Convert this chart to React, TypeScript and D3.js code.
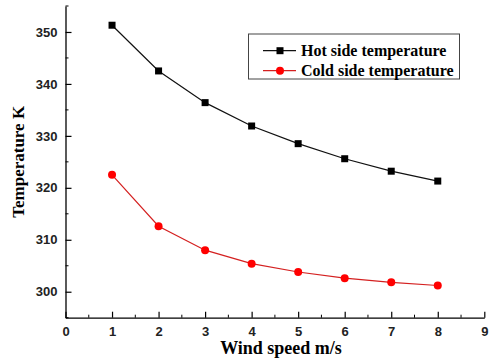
import { useEffect, useRef } from 'react';
import * as d3 from 'd3';

const windSpeed = [1, 2, 3, 4, 5, 6, 7, 8];
const hotSide = [351.3, 342.5, 336.4, 331.9, 328.5, 325.6, 323.2, 321.3];
const coldSide = [322.5, 312.6, 308.0, 305.4, 303.8, 302.6, 301.8, 301.2];
const xTicks = [0, 1, 2, 3, 4, 5, 6, 7, 8, 9];
const yTicks = [300, 310, 320, 330, 340, 350];
const seriesNames = ['Hot side temperature', 'Cold side temperature'];

const App = () => {
  const svgRef = useRef<SVGSVGElement>(null);

  useEffect(() => {
    const svg = d3.select(svgRef.current);
    svg.selectAll('*').remove();

    const width = 490;
    const height = 363;
    const margin = { top: 6, right: 6, bottom: 45, left: 65.5 };

    const x = d3.scaleLinear().domain([0, 9]).range([margin.left, 484.3]);
    const y = d3.scaleLinear().domain([295, 355]).range([317.7, margin.top]);

    svg.attr('width', width).attr('height', height);

    // axes with inward ticks
    const xAxis = svg
      .append('g')
      .attr('transform', `translate(0,${y(295)})`)
      .call(
        d3.axisBottom(x).tickValues(xTicks).tickSize(-6).tickPadding(9).tickSizeOuter(0)
      );
    xAxis
      .selectAll('.minor')
      .data(d3.range(0.5, 9, 1))
      .enter()
      .append('line')
      .attr('x1', (d) => x(d))
      .attr('x2', (d) => x(d))
      .attr('y1', 0)
      .attr('y2', -3)
      .attr('stroke', '#000');

    const yAxis = svg
      .append('g')
      .attr('transform', `translate(${x(0)},0)`)
      .call(
        d3.axisLeft(y).tickValues(yTicks).tickSize(-6).tickPadding(8).tickSizeOuter(0)
      );
    yAxis
      .selectAll('.minor')
      .data(d3.range(295, 356, 10))
      .enter()
      .append('line')
      .attr('x1', 0)
      .attr('x2', 3)
      .attr('y1', (d) => y(d))
      .attr('y2', (d) => y(d))
      .attr('stroke', '#000');

    [xAxis, yAxis].forEach((a) => {
      a.select('.domain').attr('stroke', '#000').attr('stroke-width', 1.3);
      a.selectAll('.tick line').attr('stroke', '#000').attr('stroke-width', 1.2);
      a.selectAll('.tick text')
        .attr('font-family', 'Liberation Sans, Arial, sans-serif')
        .attr('font-weight', 'bold')
        .attr('font-size', '13px')
        .attr('fill', '#222');
    });

    // axis titles
    svg
      .append('text')
      .attr('x', 281)
      .attr('y', 354)
      .attr('text-anchor', 'middle')
      .attr('font-family', 'Liberation Serif, Times New Roman, serif')
      .attr('font-weight', 'bold')
      .attr('font-size', '18px')
      .text('Wind speed m/s');

    svg
      .append('text')
      .attr('transform', `translate(24,${(y(295) + y(355)) / 2}) rotate(-90)`)
      .attr('text-anchor', 'middle')
      .attr('font-family', 'Liberation Serif, Times New Roman, serif')
      .attr('font-weight', 'bold')
      .attr('font-size', '17px')
      .text('Temperature K');

    const line = d3
      .line<number>()
      .x((_, i) => x(windSpeed[i]))
      .y((d) => y(d));

    // hot side
    svg
      .append('path')
      .datum(hotSide)
      .attr('d', line)
      .attr('fill', 'none')
      .attr('stroke', '#111')
      .attr('stroke-width', 1.2);
    svg
      .selectAll('.hot')
      .data(hotSide)
      .enter()
      .append('rect')
      .attr('x', (_, i) => x(windSpeed[i]) - 3.5)
      .attr('y', (d) => y(d) - 3.5)
      .attr('width', 7)
      .attr('height', 7)
      .attr('fill', '#000');

    // cold side
    svg
      .append('path')
      .datum(coldSide)
      .attr('d', line)
      .attr('fill', 'none')
      .attr('stroke', '#d42020')
      .attr('stroke-width', 1.2);
    svg
      .selectAll('.cold')
      .data(coldSide)
      .enter()
      .append('circle')
      .attr('cx', (_, i) => x(windSpeed[i]))
      .attr('cy', (d) => y(d))
      .attr('r', 4)
      .attr('fill', '#f00');

    // legend
    const legend = svg.append('g');
    legend
      .append('rect')
      .attr('x', 248.5)
      .attr('y', 34)
      .attr('width', 211)
      .attr('height', 45)
      .attr('fill', '#fff')
      .attr('stroke', '#444')
      .attr('stroke-width', 1);

    const rowY = [50.7, 70.7];
    const colors = ['#111', '#d42020'];
    seriesNames.forEach((name, i) => {
      legend
        .append('line')
        .attr('x1', 263)
        .attr('x2', 296)
        .attr('y1', rowY[i])
        .attr('y2', rowY[i])
        .attr('stroke', colors[i])
        .attr('stroke-width', 1.2);
      if (i === 0) {
        legend
          .append('rect')
          .attr('x', 276.5)
          .attr('y', rowY[i] - 3.5)
          .attr('width', 7)
          .attr('height', 7)
          .attr('fill', '#000');
      } else {
        legend
          .append('circle')
          .attr('cx', 280)
          .attr('cy', rowY[i])
          .attr('r', 4)
          .attr('fill', '#f00');
      }
      legend
        .append('text')
        .attr('x', 301)
        .attr('y', rowY[i] + 5.5)
        .attr('font-family', 'Liberation Serif, Times New Roman, serif')
        .attr('font-weight', 'bold')
        .attr('font-size', '16px')
        .text(name);
    });
  }, []);

  return (
    <div style={{ position: 'absolute', left: 0, top: 0 }}>
      <svg ref={svgRef}></svg>
    </div>
  );
};

export default App;
